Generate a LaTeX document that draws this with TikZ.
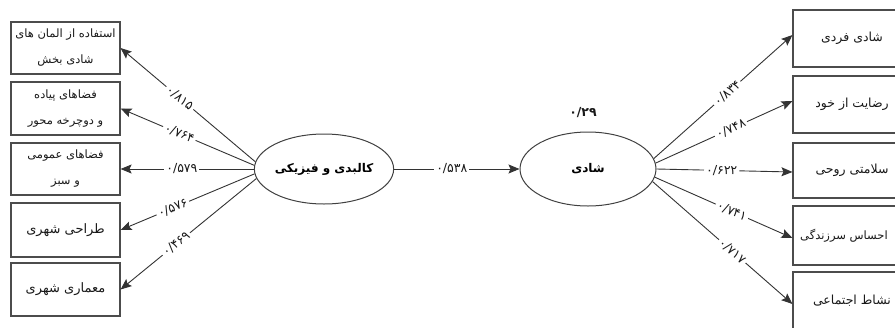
\documentclass[tikz,border=0pt]{standalone}
\usepackage{fontspec}
\usetikzlibrary{shapes.geometric,arrows.meta}
\newfontfamily\fa[Script=Arabic]{DejaVu Sans}
\TeXXeTstate=1
\begin{document}
\begin{tikzpicture}[x=1pt,y=-1pt,
  box/.style={draw=black!70,line width=1.1pt,rectangle,inner sep=0pt,align=center,font=\fa\fontsize{11.5}{26}\selectfont,text=black!90},
  rbox/.style={box,font=\fa\fontsize{12.5}{16}\selectfont},
  lat/.style={draw=black!75,line width=1pt,ellipse,inner sep=0pt,minimum width=136pt,minimum height=70pt,font=\fa\bfseries\fontsize{12}{15}\selectfont,text=black},
  conn/.style={draw=black!80,line width=0.9pt,-{Stealth[length=11pt,width=9pt,inset=2pt]}},
  coef/.style={fill=white,inner sep=2pt,font=\fa\fontsize{12.5}{13}\selectfont,text=black!90}]
\useasboundingbox (0,0) rectangle (895,327);
\clip (0,0) rectangle (895,327);
% left boxes
\node[box,minimum width=109pt,minimum height=52pt] (b1) at (65.5,48) {\beginR استفاده از المان های\endR\\\beginR شادی بخش\endR};
\node[box,minimum width=109pt,minimum height=53pt] (b2) at (65.5,108.5) {\beginR فضاهای پیاده\endR\\\beginR و دوچرخه محور\endR};
\node[box,minimum width=109pt,minimum height=52pt] (b3) at (65.5,169) {\beginR فضاهای عمومی\endR\\\beginR و سبز\endR};
\node[box,minimum width=109pt,minimum height=54pt,font=\fa\fontsize{13}{16}\selectfont] (b4) at (65.5,230) {\beginR طراحی شهری\endR};
\node[box,minimum width=109pt,minimum height=53pt,font=\fa\fontsize{13}{16}\selectfont] (b5) at (65.5,289.5) {\beginR معماری شهری\endR};
% latent variables
\node[lat] (L) at (324,169) {\beginR کالبدی و فیزیکی\endR};
\node[lat,minimum height=74pt] (R) at (588,169) {\beginR شادی\endR};
\node[coef,fill=none,font=\fa\bfseries\fontsize{12.5}{13}\selectfont] (r2) at (583,113) {۰/۲۹};
% right boxes
\node[rbox,minimum width=118pt,minimum height=57pt] (c1) at (852,38.5) {\beginR شادی فردی\endR};
\node[rbox,minimum width=118pt,minimum height=57pt] (c2) at (852,104.5) {\beginR رضایت از خود\endR};
\node[rbox,minimum width=118pt,minimum height=55pt] (c3) at (852,170.5) {\beginR سلامتی روحی\endR};
\node[rbox,minimum width=118pt,minimum height=59pt,font=\fa\fontsize{11.5}{16}\selectfont] (c4) at (852,235.5) {\beginR احساس سرزندگی\endR\hspace*{16pt}};
\node[rbox,minimum width=118pt,minimum height=58pt] (c5) at (852,301) {\beginR نشاط اجتماعی\endR};
% left connectors
\draw[conn] (L.174) -- node[coef,sloped,pos=0.56] {۰/۸۱۵} (b1.east);
\draw[conn] (L.177) -- node[coef,sloped,pos=0.56] {۰/۷۶۴} (b2.east);
\draw[conn] (L.180) -- node[coef,sloped,pos=0.54] {۰/۵۷۹} (b3.east);
\draw[conn] (L.184) -- node[coef,sloped,pos=0.61] {۰/۵۷۶} (b4.east);
\draw[conn] (L.188) -- node[coef,sloped,pos=0.59] {۰/۴۶۹} (b5.east);
% structural path
\draw[conn] (L.east) -- node[coef,pos=0.46] {۰/۵۳۸} (R.west);
% right connectors
\draw[conn] (R.9) -- node[coef,sloped,pos=0.53] {۰/۸۳۴} ([yshift=3.5pt]c1.west);
\draw[conn] (R.5) -- node[coef,sloped,pos=0.55] {۰/۷۴۸} ([yshift=3.5pt]c2.west);
\draw[conn] (R.0) -- node[coef,sloped,pos=0.48] {۰/۶۲۲} ([yshift=-1.5pt]c3.west);
\draw[conn] (R.-7) -- node[coef,sloped,pos=0.56] {۰/۷۴۱} ([yshift=-2.5pt]c4.west);
\draw[conn] (R.-11) -- node[coef,sloped,pos=0.57] {۰/۷۱۷} ([yshift=-3pt]c5.west);
\end{tikzpicture}
\end{document}
